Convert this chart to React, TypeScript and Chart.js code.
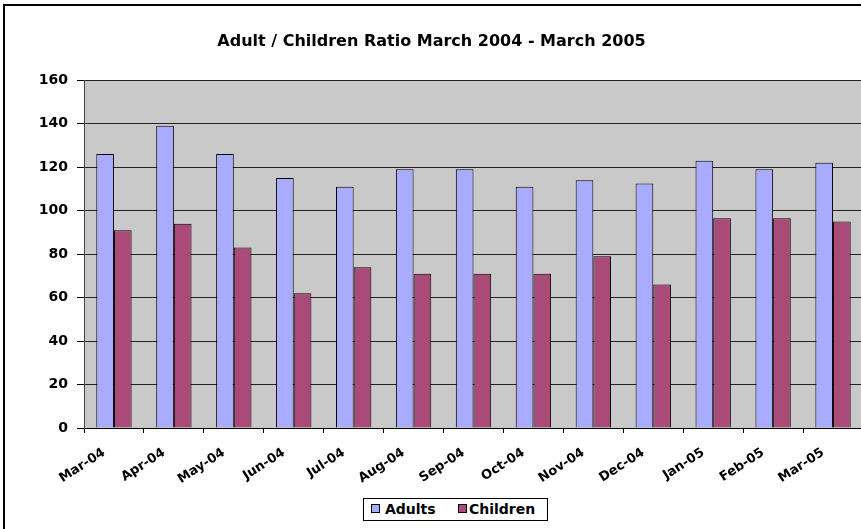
import React, { useEffect, useRef } from 'react';
import { Chart, registerables } from 'chart.js';

Chart.register(...registerables);

const FONT = "'DejaVu Sans', 'Liberation Sans', Arial, sans-serif";

const titleText = 'Adult / Children Ratio March 2004 - March 2005';
const months = ['Mar-04', 'Apr-04', 'May-04', 'Jun-04', 'Jul-04', 'Aug-04', 'Sep-04', 'Oct-04', 'Nov-04', 'Dec-04', 'Jan-05', 'Feb-05', 'Mar-05'];
const adults = [126, 139, 126, 115, 111, 119, 119, 111, 114, 112.5, 123, 119, 122];
const children = [91, 94, 83, 62, 74, 71, 71, 71, 79, 66, 96.5, 96.5, 95];
const yMin = 0;
const yMax = 160;
const yStep = 20;
const seriesNames = ['Adults', 'Children'];
const seriesColors = ['#a8abfe', '#a94a78'];

const CW = 863;
const CH = 529;

const framePlugin = {
  id: 'frame',
  beforeDraw(chart: any) {
    const { ctx, chartArea } = chart;
    ctx.save();
    ctx.fillStyle = '#ffffff';
    ctx.fillRect(0, 0, chart.width, chart.height);
    ctx.fillStyle = '#000000';
    ctx.fillRect(3, 4, chart.width, 2);
    ctx.fillRect(3, 4, 2, chart.height);
    ctx.fillStyle = '#c9c9c9';
    ctx.fillRect(chartArea.left, chartArea.top, chartArea.right - chartArea.left, chartArea.bottom - chartArea.top);
    ctx.restore();
  },
};

export default function App() {
  const ref = useRef<HTMLCanvasElement | null>(null);

  useEffect(() => {
    if (!ref.current) return;
    const chart = new Chart(ref.current, {
      type: 'bar',
      data: {
        labels: months,
        datasets: [
          {
            label: seriesNames[0],
            data: adults,
            backgroundColor: seriesColors[0],
            borderColor: '#000000',
            borderWidth: 1,
            categoryPercentage: 0.59,
            barPercentage: 1,
          },
          {
            label: seriesNames[1],
            data: children,
            backgroundColor: seriesColors[1],
            borderColor: '#000000',
            borderWidth: 1,
            categoryPercentage: 0.59,
            barPercentage: 1,
          },
        ],
      },
      options: {
        responsive: false,
        animation: false,
        devicePixelRatio: 1,
        layout: { padding: { top: 0, left: 0, right: 0, bottom: 0 } },
        plugins: {
          legend: { display: false },
          tooltip: { enabled: false },
          title: {
            display: true,
            text: titleText,
            color: '#000000',
            font: { family: FONT, size: 16, weight: 'bold', lineHeight: 1.2 },
            padding: { top: 32, bottom: 29 },
          },
        },
        scales: {
          x: {
            offset: true,
            ticks: {
              color: '#000000',
              font: { family: FONT, size: 13, weight: 'bold' },
              minRotation: 33,
              maxRotation: 33,
              autoSkip: false,
              padding: 12,
              labelOffset: -10,
            },
            grid: { drawOnChartArea: false, offset: true, tickColor: '#000000', tickLength: 5 },
            border: { color: '#000000', width: 1 },
            afterFit(scale: any) {
              scale.height = 101;
            },
          },
          y: {
            min: yMin,
            max: yMax,
            ticks: {
              stepSize: yStep,
              color: '#000000',
              font: { family: FONT, size: 14, weight: 'bold' },
              padding: 9,
            },
            grid: { color: '#222222', tickColor: '#000000', tickLength: 7, lineWidth: 1 },
            border: { color: '#444444', width: 1 },
            afterFit(scale: any) {
              scale.width = 84;
            },
          },
        },
      },
      plugins: [framePlugin],
    });
    return () => chart.destroy();
  }, []);

  const legendText: React.CSSProperties = {
    position: 'absolute',
    top: 0,
    lineHeight: '21px',
    fontFamily: FONT,
    fontWeight: 'bold',
    fontSize: 14,
    color: '#000',
    whiteSpace: 'nowrap',
  };
  const sq = (left: number, color: string): React.CSSProperties => ({
    position: 'absolute',
    left,
    top: 5,
    width: 9,
    height: 9,
    boxSizing: 'border-box',
    border: '1px solid #000',
    background: color,
  });

  return (
    <div style={{ position: 'fixed', left: 0, top: 0, width: 861, height: 529, overflow: 'hidden', background: '#fff' }}>
      <canvas ref={ref} width={CW} height={CH} style={{ display: 'block', width: CW, height: CH }} />
      <div
        style={{
          position: 'absolute',
          left: 363,
          top: 498,
          width: 185,
          height: 23,
          boxSizing: 'border-box',
          border: '1px solid #000',
          background: '#fff',
        }}
      >
        <div style={sq(7, seriesColors[0])} />
        <span style={{ ...legendText, left: 21 }}>{seriesNames[0]}</span>
        <div style={sq(94, seriesColors[1])} />
        <span style={{ ...legendText, left: 105 }}>{seriesNames[1]}</span>
      </div>
    </div>
  );
}
